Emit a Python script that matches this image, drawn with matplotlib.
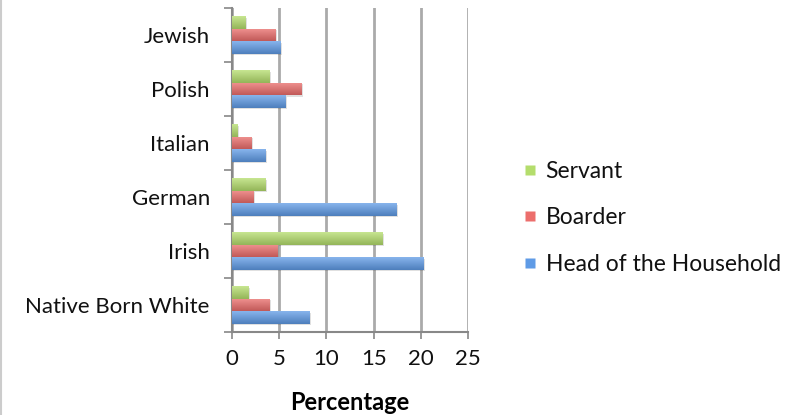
import matplotlib.pyplot as plt
import numpy as np
from matplotlib.lines import Line2D

plt.rcParams['font.family'] = ['Lato', 'DejaVu Sans']

# Share of each group, by household role (percent)
groups = ['Native Born White', 'Irish', 'German', 'Italian', 'Polish', 'Jewish']
head = [8.2, 20.3, 17.4, 3.6, 5.65, 5.1]
boarder = [4.0, 4.8, 2.3, 2.1, 7.35, 4.6]
servant = [1.8, 15.95, 3.6, 0.55, 4.0, 1.45]

c_head = '#5f9be6'
c_boarder = '#ec6e6c'
c_servant = '#b4dd6c'

fig = plt.figure(figsize=(8.04, 4.15), dpi=100)
ax = fig.add_axes([0.2886, 0.2, 0.2935, 0.7807])

y = np.arange(len(groups))
h = 0.23

def shaded(bars, color):
    # lighter top edge, darker bottom, like a glossy bar
    base = np.array(plt.matplotlib.colors.to_rgb(color))
    ramp = np.linspace(0, 1, 32)[:, None]
    img = base * (0.82 + 0.18 * ramp) + (1 - base) * 0.25 * ramp
    img = np.clip(img, 0, 1)[:, None, :]
    for b in bars:
        x0, y0 = b.get_x(), b.get_y()
        w, hh = b.get_width(), b.get_height()
        # soft drop shadow
        ax.add_patch(plt.Rectangle((x0, y0 - 0.03), w + 0.15, hh, color='#000000',
                                   alpha=0.12, zorder=2.5, linewidth=0))
        b.set_facecolor('none')
        b.set_edgecolor('none')
        im = ax.imshow(img, extent=[x0, x0 + w, y0, y0 + hh], aspect='auto',
                       origin='lower', zorder=3, interpolation='bilinear')
        im.set_clip_path(b)

bh = ax.barh(y - h, head, height=h, color=c_head, zorder=3)
bb = ax.barh(y, boarder, height=h, color=c_boarder, zorder=3)
bs = ax.barh(y + h, servant, height=h, color=c_servant, zorder=3)
shaded(bh, c_head)
shaded(bb, c_boarder)
shaded(bs, c_servant)

ax.set_xlim(0, 25)
ax.set_ylim(-0.5, len(groups) - 0.5)
ax.set_xticks(range(0, 26, 5))
ax.tick_params(axis='x', labelsize=16, length=5, width=1.2, color='#888888',
               pad=7, labelcolor='#111111')
ax.set_yticks(y)
ax.set_yticklabels(groups)
ax.tick_params(axis='y', which='major', length=0, labelsize=16, pad=16,
               labelcolor='#111111')
ax.set_yticks(np.arange(-0.5, len(groups), 1), minor=True)
ax.tick_params(axis='y', which='minor', length=6, width=1.2, color='#888888')
ax.xaxis.grid(True, color='#aaaaaa', linewidth=2, zorder=0)

for s in ['top', 'right']:
    ax.spines[s].set_visible(False)
for s in ['left', 'bottom']:
    ax.spines[s].set_color('#888888')
    ax.spines[s].set_linewidth(1.5)

ax.set_xlabel('Percentage', fontsize=17, fontweight='bold', labelpad=16)

handles = [Line2D([], [], marker='s', linestyle='none', markersize=6.5,
                  markerfacecolor=c, markeredgecolor='none')
           for c in (c_servant, c_boarder, c_head)]
fig.legend(handles, ['Servant', 'Boarder', 'Head of the Household'],
           loc='center left', bbox_to_anchor=(0.626, 0.475), frameon=False,
           fontsize=16.5, handlelength=0.5, handletextpad=0.45, labelspacing=1.1,
           labelcolor='#111111')

fig.add_artist(Line2D([0.001, 0.001], [0, 1], color='#cccccc', linewidth=1.5,
                      transform=fig.transFigure))

fig.savefig('out.png', dpi=100)
